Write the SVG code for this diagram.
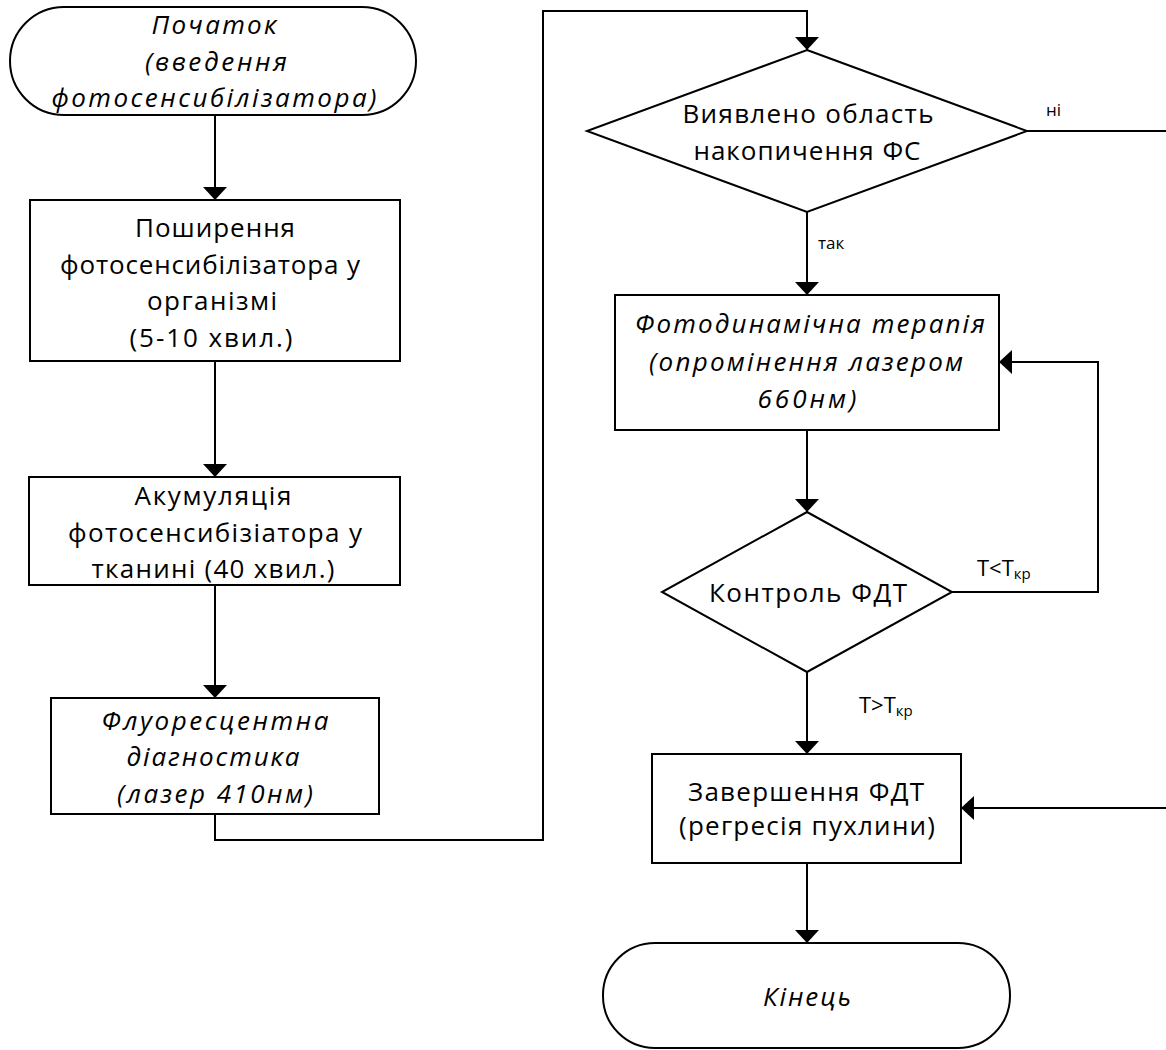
<svg xmlns="http://www.w3.org/2000/svg" width="1166" height="1050" viewBox="0 0 1166 1050">
  <style>
    .shape { fill: #ffffff; stroke: #000000; stroke-width: 2; }
    .wire { fill: none; stroke: #000000; stroke-width: 2; }
    text { font-family: "Open Sans", "Noto Sans", sans-serif; font-size: 26px; fill: #000000; text-anchor: middle; }
    .it { font-style: italic; }
    .lbl { font-size: 17px; text-anchor: start; }
    .cond { font-size: 22px; text-anchor: start; }
    .sub { font-size: 15px; }
  </style>
  <defs>
    <marker id="arrow" viewBox="0 0 13 24" refX="13" refY="12" markerWidth="13" markerHeight="24" markerUnits="userSpaceOnUse" orient="auto">
      <path d="M0,0 L13,12 L0,24 Z" fill="#000000"/>
    </marker>
  </defs>

  <!-- connectors -->
  <g id="connectors">
    <path class="wire" d="M215,115 V200" marker-end="url(#arrow)"/>
    <path class="wire" d="M215,361 V477" marker-end="url(#arrow)"/>
    <path class="wire" d="M215,585 V698" marker-end="url(#arrow)"/>
    <path class="wire" d="M215,814 V840 H543 V11 H807 V50" marker-end="url(#arrow)"/>
    <path class="wire" d="M1027,131 H1172 V808 H961" marker-end="url(#arrow)"/>
    <path class="wire" d="M807,212 V295" marker-end="url(#arrow)"/>
    <path class="wire" d="M807,430 V512" marker-end="url(#arrow)"/>
    <path class="wire" d="M952,592 H1098 V362 H999" marker-end="url(#arrow)"/>
    <path class="wire" d="M807,672 V754" marker-end="url(#arrow)"/>
    <path class="wire" d="M807,863 V943" marker-end="url(#arrow)"/>
    <text class="lbl" x="1046" y="116">ні</text>
    <text class="lbl" x="818" y="249">так</text>
    <text class="cond" x="977" y="576">Т&lt;Т<tspan class="sub" dy="3">кр</tspan></text>
    <text class="cond" x="859" y="713">Т&gt;Т<tspan class="sub" dy="3">кр</tspan></text>
  </g>

  <!-- start terminator -->
  <g id="start">
    <rect class="shape" x="10" y="7" width="406" height="108" rx="54" ry="54"/>
    <text class="it" x="214" y="34" textLength="125" lengthAdjust="spacing">Початок</text>
    <text class="it" x="216" y="71" textLength="142" lengthAdjust="spacing">(введення</text>
    <text class="it" x="214" y="107" textLength="325" lengthAdjust="spacing">фотосенсибілізатора)</text>
  </g>

  <g id="spread">
    <rect class="shape" x="30" y="200" width="370" height="161"/>
    <text x="215" y="237" textLength="160" lengthAdjust="spacing">Поширення</text>
    <text x="210" y="273.5" textLength="300" lengthAdjust="spacing">фотосенсибілізатора у</text>
    <text x="212" y="310" textLength="130" lengthAdjust="spacing">організмі</text>
    <text x="211" y="347" textLength="163" lengthAdjust="spacing">(5-10 хвил.)</text>
  </g>

  <g id="accumulation">
    <rect class="shape" x="29" y="477" width="371" height="108"/>
    <text x="213" y="505" textLength="157" lengthAdjust="spacing">Акумуляція</text>
    <text x="215" y="542" textLength="294" lengthAdjust="spacing">фотосенсибізіатора у</text>
    <text x="213" y="578" textLength="243" lengthAdjust="spacing">тканині (40 хвил.)</text>
  </g>

  <g id="diagnostics">
    <rect class="shape" x="51" y="698" width="328" height="116"/>
    <text class="it" x="215" y="730" textLength="227" lengthAdjust="spacing">Флуоресцентна</text>
    <text class="it" x="213" y="766" textLength="173" lengthAdjust="spacing">діагностика</text>
    <text class="it" x="215" y="803" textLength="196" lengthAdjust="spacing">(лазер 410нм)</text>
  </g>

  <g id="detected">
    <polygon class="shape" points="807,50 1027,131 807,212 587,131"/>
    <text x="808" y="123" textLength="251" lengthAdjust="spacing">Виявлено область</text>
    <text x="807" y="160" textLength="227" lengthAdjust="spacing">накопичення ФС</text>
  </g>

  <g id="therapy">
    <rect class="shape" x="615" y="295" width="384" height="135"/>
    <text class="it" x="810" y="333" textLength="350" lengthAdjust="spacing">Фотодинамічна терапія</text>
    <text class="it" x="806" y="371" textLength="314" lengthAdjust="spacing">(опромінення лазером</text>
    <text class="it" x="807" y="408" textLength="99" lengthAdjust="spacing">660нм)</text>
  </g>

  <g id="control">
    <polygon class="shape" points="807,512 952,592 807,672 662,592"/>
    <text x="808" y="602" textLength="198" lengthAdjust="spacing">Контроль ФДТ</text>
  </g>

  <g id="finish">
    <rect class="shape" x="652" y="754" width="309" height="109"/>
    <text x="806" y="801" textLength="236" lengthAdjust="spacing">Завершення ФДТ</text>
    <text x="807" y="835" textLength="256" lengthAdjust="spacing">(регресія пухлини)</text>
  </g>

  <g id="end">
    <rect class="shape" x="603" y="943" width="407" height="105" rx="52" ry="52"/>
    <text class="it" x="807" y="1006" textLength="88" lengthAdjust="spacing">Кінець</text>
  </g>
</svg>
